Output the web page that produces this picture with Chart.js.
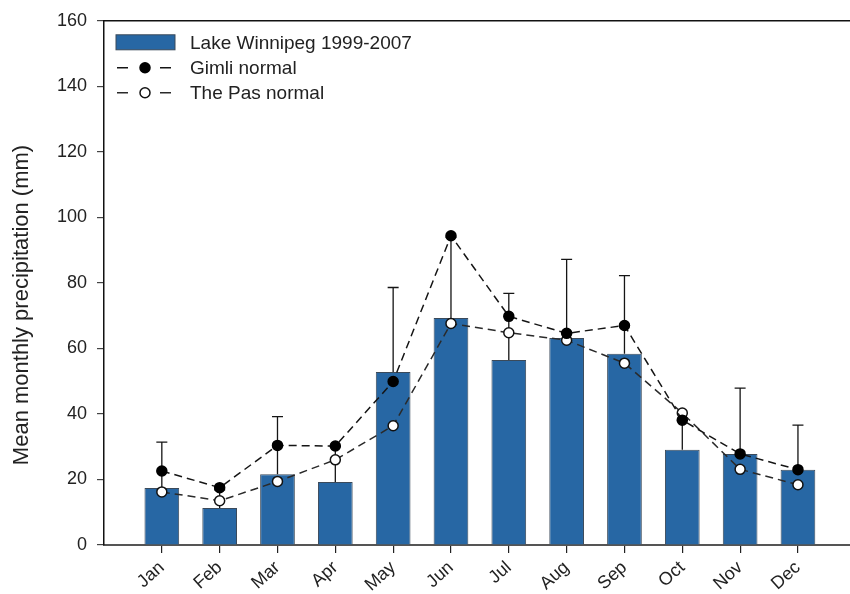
<!DOCTYPE html>
<html>
<head>
<meta charset="utf-8">
<script src="https://cdn.jsdelivr.net/npm/chart.js@4"></script>
<style>
  html, body { margin: 0; padding: 0; background: #fff; }
  #wrap { width: 850px; height: 594px; position: relative; }
</style>
</head>
<body>
<div id="wrap"><canvas id="chart"></canvas></div>
<script>
const months = ["Jan", "Feb", "Mar", "Apr", "May", "Jun", "Jul", "Aug", "Sep", "Oct", "Nov", "Dec"];
const lakeWinnipeg = [17.4, 11.3, 21.6, 19.2, 52.8, 69.3, 56.5, 63.2, 58.4, 29.1, 27.8, 23.0];
const lakeWinnipegSD = [14.0, 5.5, 17.6, 10.8, 25.8, 24.7, 20.3, 24.0, 23.8, 9.0, 20.1, 13.6];
const gimliNormal = [22.6, 17.5, 30.4, 30.2, 49.9, 94.4, 69.8, 64.6, 67.0, 38.1, 27.8, 23.0];
const thePasNormal = [16.2, 13.5, 19.4, 26.0, 36.4, 67.6, 64.8, 62.5, 55.5, 40.3, 23.1, 18.4];

const FONT = "'Liberation Sans', Arial, sans-serif";
const toPoints = (arr) => arr.map((v, i) => ({ x: i + 1, y: v }));

// upper error bars on the Lake Winnipeg bars
const errorBars = {
    id: "errorBars",
    afterDatasetDraw(chart, args) {
        if (args.index !== 0) return;
        const ctx = chart.ctx;
        const y = chart.scales.y;
        ctx.save();
        ctx.strokeStyle = "#151515";
        ctx.lineWidth = 1.3;
        args.meta.data.forEach((bar, i) => {
            const top = y.getPixelForValue(lakeWinnipeg[i] + lakeWinnipegSD[i]);
            ctx.beginPath();
            ctx.moveTo(bar.x, bar.y);
            ctx.lineTo(bar.x, top);
            ctx.moveTo(bar.x - 5.5, top);
            ctx.lineTo(bar.x + 5.5, top);
            ctx.stroke();
        });
        ctx.restore();
    },
};

// y title and legend drawn by hand to sit where the original has them
const decorations = {
    id: "decorations",
    afterDraw(chart) {
        const ctx = chart.ctx;
        const area = chart.chartArea;
        ctx.save();
        ctx.fillStyle = "#222";
        ctx.font = "22px " + FONT;
        ctx.textAlign = "center";
        ctx.textBaseline = "middle";
        ctx.translate(22, 305);
        ctx.rotate(-Math.PI / 2);
        ctx.fillText("Mean monthly precipitation (mm)", 0, 0);
        ctx.restore();

        ctx.save();
        const sets = chart.data.datasets;
        const x0 = area.left + 12;
        const rows = [area.top + 21.5, area.top + 47, area.top + 72];
        ctx.font = "19px " + FONT;
        ctx.textBaseline = "middle";
        ctx.textAlign = "left";
        sets.forEach((ds, i) => {
            const ry = rows[i];
            if (ds.type === "bar") {
                ctx.fillStyle = ds.backgroundColor;
                ctx.fillRect(x0, ry - 7.5, 59, 15);
                ctx.strokeStyle = ds.borderColor;
                ctx.lineWidth = 1;
                ctx.strokeRect(x0, ry - 7.5, 59, 15);
            } else {
                ctx.strokeStyle = ds.borderColor;
                ctx.lineWidth = 1.5;
                ctx.beginPath();
                ctx.moveTo(x0 + 1, ry);
                ctx.lineTo(x0 + 12, ry);
                ctx.moveTo(x0 + 44, ry);
                ctx.lineTo(x0 + 55, ry);
                ctx.stroke();
                ctx.beginPath();
                ctx.arc(x0 + 29, ry, 5, 0, Math.PI * 2);
                ctx.fillStyle = ds.pointBackgroundColor;
                ctx.fill();
                ctx.strokeStyle = ds.pointBorderColor;
                ctx.lineWidth = 1.5;
                ctx.stroke();
            }
            ctx.fillStyle = "#222";
            ctx.fillText(ds.label, x0 + 74, ry + 1);
        });
        ctx.restore();
    },
};

new Chart(document.getElementById("chart"), {
    type: "bar",
    data: {
        datasets: [
            {
                type: "bar",
                label: "Lake Winnipeg 1999-2007",
                data: toPoints(lakeWinnipeg),
                backgroundColor: "#2767a4",
                borderColor: "#3b4a5a",
                borderWidth: 1,
                barPercentage: 0.6,
                categoryPercentage: 1,
                xAxisID: "x",
                order: 3,
            },
            {
                type: "line",
                label: "Gimli normal",
                data: toPoints(gimliNormal),
                borderColor: "#151515",
                borderWidth: 1.5,
                borderDash: [8, 5],
                pointRadius: 5,
                pointBackgroundColor: "#000",
                pointBorderColor: "#000",
                pointBorderWidth: 1.5,
                tension: 0,
                xAxisID: "x",
                order: 1,
            },
            {
                type: "line",
                label: "The Pas normal",
                data: toPoints(thePasNormal),
                borderColor: "#2a2a2a",
                borderWidth: 1.5,
                borderDash: [8, 5],
                pointRadius: 5,
                pointBackgroundColor: "#fff",
                pointBorderColor: "#111",
                pointBorderWidth: 1.5,
                tension: 0,
                xAxisID: "x",
                order: 2,
            },
        ],
    },
    options: {
        responsive: true,
        maintainAspectRatio: false,
        animation: false,
        layout: { autoPadding: false, padding: { top: 18, right: 0, bottom: 0, left: 0 } },
        scales: {
            x: {
                type: "linear",
                position: "bottom",
                offset: false,
                min: 0,
                max: 12.9,
                afterBuildTicks: (axis) => {
                    axis.ticks = months.map((m, i) => ({ value: i + 1 }));
                },
                afterFit: (axis) => {
                    axis.height = 49;
                    axis.paddingLeft = 0;
                    axis.paddingRight = 0;
                },
                grid: { offset: false, drawOnChartArea: false, drawTicks: true, tickLength: 8, color: "#222", lineWidth: 1.2 },
                border: { display: true, color: "#555", width: 2 },
                ticks: {
                    autoSkip: false,
                    minRotation: 42,
                    maxRotation: 42,
                    padding: 4,
                    color: "#222",
                    font: { family: FONT, size: 18 },
                    callback: (v) => months[v - 1],
                },
            },
            x2: {
                type: "linear",
                position: "top",
                offset: false,
                min: 0,
                max: 12.9,
                afterFit: (axis) => {
                    axis.height = 0;
                    axis.paddingLeft = 0;
                    axis.paddingRight = 0;
                },
                grid: { display: false, drawTicks: false },
                border: { display: true, color: "#111", width: 1.5 },
                ticks: { display: false },
            },
            y: {
                min: 0,
                max: 160,
                afterFit: (axis) => { axis.width = 104; },
                grid: { drawOnChartArea: false, drawTicks: true, tickLength: 7, color: "#444", lineWidth: 1.2 },
                border: { display: true, color: "#111", width: 1.5 },
                ticks: {
                    stepSize: 20,
                    padding: 10,
                    color: "#222",
                    font: { family: FONT, size: 18 },
                },
            },
        },
        plugins: {
            legend: { display: false },
            tooltip: { enabled: false },
        },
    },
    plugins: [errorBars, decorations],
});
</script>
</body>
</html>
